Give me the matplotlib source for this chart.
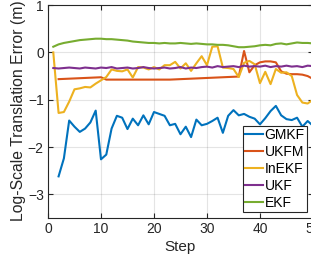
import numpy as np
import matplotlib
matplotlib.use('Agg')
import matplotlib.pyplot as plt

plt.rcParams['font.family'] = ['Liberation Sans', 'DejaVu Sans']
plt.rcParams['font.size'] = 10

# data
steps_gmkf = list(range(2, 51))
gmkf = [-2.62, -2.24, -1.44, -1.57, -1.68, -1.61, -1.48, -1.23, -2.26, -2.16,
        -1.61, -1.34, -1.38, -1.62, -1.40, -1.54, -1.33, -1.52, -1.26, -1.30,
        -1.34, -1.54, -1.51, -1.73, -1.57, -1.79, -1.42, -1.54, -1.51, -1.45,
        -1.38, -1.70, -1.34, -1.22, -1.33, -1.30, -1.36, -1.40, -1.52, -1.39,
        -1.24, -1.13, -1.33, -1.41, -1.43, -1.38, -1.57, -1.45, -1.55]

steps_ukfm = list(range(2, 51))
ukfm = [-0.565, -0.56, -0.555, -0.55, -0.545, -0.54, -0.535, -0.53, -0.525, -0.575,
        -0.575, -0.575, -0.575, -0.575, -0.575, -0.575, -0.575, -0.575, -0.575, -0.575,
        -0.575, -0.575, -0.57, -0.565, -0.56, -0.555, -0.55, -0.545, -0.54, -0.535,
        -0.53, -0.525, -0.52, -0.515, -0.51, 0.03, -0.42, -0.27, -0.21, -0.19,
        -0.19, -0.21, -0.40, -0.45, -0.46, -0.46, -0.47, -0.50, -0.56]

steps_all = list(range(1, 51))
inekf = [0.0, -1.28, -1.26, -1.04, -0.78, -0.76, -0.73, -0.74, -0.66, -0.59,
         -0.52, -0.36, -0.39, -0.40, -0.36, -0.53, -0.31, -0.32, -0.36, -0.31,
         -0.36, -0.27, -0.27, -0.20, -0.34, -0.23, -0.39, -0.23, -0.08, -0.27,
         0.12, 0.13, -0.32, -0.33, -0.35, -0.52, -0.22, -0.18, -0.25, -0.65,
         -0.41, -0.67, -0.35, -0.43, -0.42, -0.50, -0.90, -1.06, -1.08, -1.00]

ukf = [-0.33, -0.34, -0.33, -0.32, -0.33, -0.34, -0.32, -0.33, -0.34, -0.32,
       -0.33, -0.31, -0.34, -0.33, -0.32, -0.34, -0.33, -0.31, -0.33, -0.34,
       -0.33, -0.32, -0.34, -0.33, -0.31, -0.34, -0.32, -0.33, -0.31, -0.30,
       -0.32, -0.29, -0.31, -0.30, -0.29, -0.31, -0.28, -0.30, -0.29, -0.30,
       -0.28, -0.31, -0.29, -0.30, -0.28, -0.30, -0.29, -0.31, -0.28, -0.29]

ekf = [0.12, 0.17, 0.20, 0.22, 0.24, 0.26, 0.27, 0.28, 0.29, 0.29,
       0.28, 0.28, 0.27, 0.26, 0.25, 0.23, 0.22, 0.21, 0.20, 0.20,
       0.19, 0.20, 0.19, 0.19, 0.20, 0.19, 0.18, 0.19, 0.18, 0.17,
       0.17, 0.16, 0.16, 0.15, 0.13, 0.11, 0.11, 0.12, 0.13, 0.15,
       0.16, 0.15, 0.18, 0.19, 0.17, 0.19, 0.21, 0.20, 0.20, 0.19]

#%%
fig = plt.figure(figsize=(3.11, 2.59), dpi=100)
ax = fig.add_axes([0.1543, 0.1583, 0.852, 0.822])

lw = 1.5
ax.plot(steps_gmkf, gmkf, color='#0072BD', lw=lw, label='GMKF')
ax.plot(steps_ukfm, ukfm, color='#D95319', lw=lw, label='UKFM')
ax.plot(steps_all, inekf, color='#EDB120', lw=lw, label='InEKF')
ax.plot(steps_all, ukf, color='#7E2F8E', lw=lw, label='UKF')
ax.plot(steps_all, ekf, color='#77AC30', lw=lw, label='EKF')

ax.set_xlim(0, 50)
ax.set_ylim(-3.5, 1)
ax.set_xticks([0, 10, 20, 30, 40, 50])
ax.set_yticks([-3, -2, -1, 0, 1])
ax.grid(True, color='#262626', alpha=0.12, lw=0.8)
ax.tick_params(direction='in', length=3.5, top=True, right=True,
               colors='#262626', labelsize=10, pad=3)
for s in ax.spines.values():
    s.set_color('#262626')
    s.set_linewidth(0.8)

ax.set_xlabel('Step', color='#262626', fontsize=11)
ax.set_ylabel('Log-Scale Translation Error (m)', color='#262626', fontsize=11.3)
ax.yaxis.set_label_coords(-0.083, 0.505)
ax.xaxis.set_label_coords(0.5, -0.105)

leg = ax.legend(loc='lower right', bbox_to_anchor=(0.987, 0.181),
                bbox_transform=fig.transFigure, borderaxespad=0,
                fancybox=False, edgecolor='#262626', framealpha=1,
                handlelength=1.3, handletextpad=0.1, labelspacing=0.22,
                borderpad=0.15, fontsize=10)
leg.get_frame().set_linewidth(0.8)

fig.savefig('out.png', dpi=100)
